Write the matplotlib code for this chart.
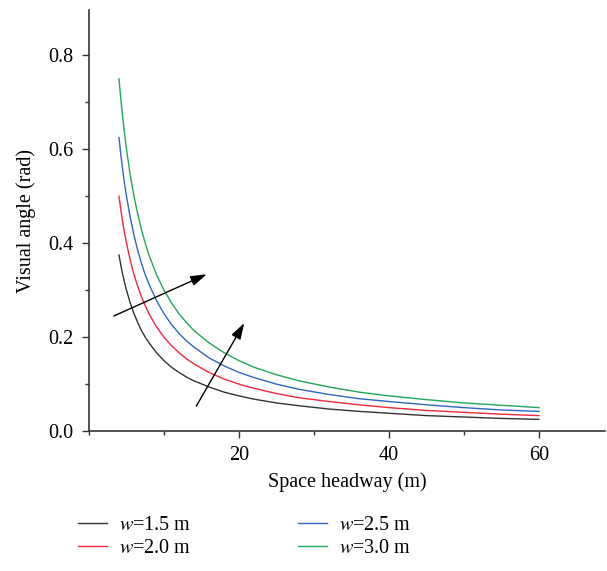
import matplotlib.pyplot as plt
from matplotlib.ticker import MultipleLocator

plt.rcParams['font.family'] = 'Liberation Serif'
plt.rcParams['mathtext.fontset'] = 'stix'

# values
headway = [4, 4.25, 4.5, 4.75, 5, 5.5, 6, 6.5, 7, 7.5, 8, 9, 10, 11, 12, 13, 14, 16, 18, 20,
           22, 25, 28, 32, 36, 40, 45, 50, 55, 60]
w15 = [.375, .353, .333, .316, .300, .273, .250, .231, .214, .200, .188, .167, .150, .136, .125,
       .115, .107, .094, .083, .075, .068, .060, .054, .047, .042, .038, .033, .030, .027, .025]
w20 = [.500, .471, .444, .421, .400, .364, .333, .308, .286, .267, .250, .222, .200, .182, .167,
       .154, .143, .125, .111, .100, .091, .080, .071, .063, .056, .050, .044, .040, .036, .033]
w25 = [.625, .588, .556, .526, .500, .455, .417, .385, .357, .333, .313, .278, .250, .227, .208,
       .192, .179, .156, .139, .125, .114, .100, .089, .078, .069, .063, .056, .050, .045, .042]
w30 = [.750, .706, .667, .632, .600, .545, .500, .462, .429, .400, .375, .333, .300, .273, .250,
       .231, .214, .188, .167, .150, .136, .120, .107, .094, .083, .075, .067, .060, .055, .050]
labels = ['$w$=1.5 m', '$w$=2.0 m', '$w$=2.5 m', '$w$=3.0 m']
colors = ['#333333', '#f2283f', '#2e67c2', '#24a65a']

fig = plt.figure(figsize=(6.07, 5.71), dpi=100)
ax = fig.add_axes([0.1466, 0.245, 0.85, 0.737])

lines = []
for ys, lab, c in zip([w15, w20, w25, w30], labels, colors):
    l, = ax.plot(headway, ys, color=c, lw=1.0, label=lab)
    lines.append(l)

# arrows
arr = dict(arrowstyle='-|>,head_length=0.7,head_width=0.22', color='black', lw=1.0,
           mutation_scale=14, shrinkA=0, shrinkB=0)
ax.annotate('', xy=(15.7, 0.334), xytext=(3.3, 0.245), arrowprops=arr)
ax.annotate('', xy=(20.7, 0.23), xytext=(14.3, 0.053), arrowprops=arr)

ax.set_xlim(0, 68.8)
ax.set_ylim(0, 0.896)
ax.xaxis.set_major_locator(MultipleLocator(20))
ax.xaxis.set_minor_locator(MultipleLocator(10))
ax.yaxis.set_major_locator(MultipleLocator(0.2))
ax.yaxis.set_minor_locator(MultipleLocator(0.1))
ax.set_xticks([20, 40, 60])
ax.yaxis.set_major_formatter(plt.FormatStrFormatter('%.1f'))
ax.spines['top'].set_visible(False)
ax.spines['right'].set_visible(False)
for s in ['left', 'bottom']:
    ax.spines[s].set_color('#333333')
    ax.spines[s].set_linewidth(1.2)
ax.tick_params(which='major', length=5, width=1, color='#333333', labelsize=14.5, pad=6)
ax.tick_params(which='minor', length=3, width=1, color='#333333')

ax.set_xlabel('Space headway (m)', fontsize=14.5, labelpad=5)
ax.set_ylabel('Visual angle (rad)', fontsize=14.5, labelpad=9)

fig.legend(lines, labels,
           ncol=2, loc='upper left', bbox_to_anchor=(0.098, 0.128), frameon=False,
           fontsize=14.5, handlelength=1.45, columnspacing=5.3, labelspacing=0.2,
           handletextpad=0.6)

fig.savefig('out.png', dpi=100)
